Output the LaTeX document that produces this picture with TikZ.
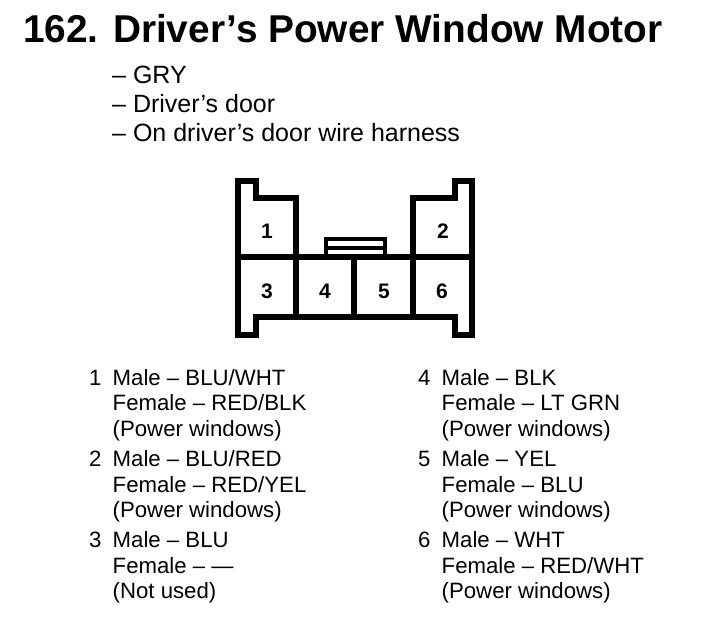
\documentclass[tikz,border=0pt]{standalone}
\usepackage{fontspec}
\setmainfont{Liberation Sans}
\usetikzlibrary{positioning}
\tikzset{
  heading/.style={anchor=base west,inner sep=0pt,font=\bfseries\fontsize{38.8}{38.8}\selectfont},
  info/.style={anchor=base west,inner sep=0pt,font=\fontsize{25}{25}\selectfont},
  pin/.style={inner sep=0pt,font=\bfseries\fontsize{21}{21}\selectfont},
  legend/.style={anchor=base west,inner sep=0pt,font=\fontsize{22.2}{22.2}\selectfont},
  housing/.style={line width=6pt,line join=miter,line cap=rect},
  latch/.style={line width=4pt,line join=miter}
}
\begin{document}
\begin{tikzpicture}[x=1pt,y=-1pt]
  \useasboundingbox (0,0) rectangle (704,630);
  \node (title) [heading] at (23,42.5) {162. Driver’s Power Window Motor};
  \node (colour) [info] at (112,83) {– GRY};
  \node (place) [info] at (112,112) {– Driver’s door};
  \node (where) [info] at (112,141) {– On driver’s door wire harness};
  % connector outline
  \draw[latch] (326,257) -- (326,239) -- (385,239) -- (385,257);
  \draw[latch] (326,248) -- (385,248);
  \draw[housing] (238,181) -- (256,181) -- (256,198) -- (296,198) -- (296,317);
  \draw[housing] (238,181) -- (238,335) -- (256,335) -- (256,317) -- (455,317) -- (455,335)
    -- (472,335) -- (472,181) -- (455,181) -- (455,198) -- (413,198) -- (413,317);
  \draw[housing] (238,257) -- (472,257);
  \draw[housing] (354,257) -- (354,317);
  % pin numbers
  \node (p1) [pin] at (267,231.5) {1};
  \node (p2) [pin] at (443,231.5) {2};
  \node (p3) [pin] at (267,291) {3};
  \node (p4) [pin] at (325,291) {4};
  \node (p5) [pin] at (384,291) {5};
  \node (p6) [pin] at (442,291) {6};
  % left column
  \node (n1) [legend] at (89,385.6) {1};
  \node (m1) [legend] at (112.5,385.6) {Male – BLU/WHT};
  \node (f1) [legend] at (112.5,410.6) {Female – RED/BLK};
  \node (u1) [legend] at (112.5,436.6) {(Power windows)};
  \node (n2) [legend] at (89,466.6) {2};
  \node (m2) [legend] at (112.5,466.6) {Male – BLU/RED};
  \node (f2) [legend] at (112.5,492.6) {Female – RED/YEL};
  \node (u2) [legend] at (112.5,517.6) {(Power windows)};
  \node (n3) [legend] at (89,547.6) {3};
  \node (m3) [legend] at (112.5,547.6) {Male – BLU};
  \node (f3) [legend] at (112.5,573.6) {Female – —};
  \node (u3) [legend] at (112.5,598.6) {(Not used)};
  % right column
  \node (n4) [legend] at (418,385.6) {4};
  \node (m4) [legend] at (441.5,385.6) {Male – BLK};
  \node (f4) [legend] at (441.5,410.6) {Female – LT GRN};
  \node (u4) [legend] at (441.5,436.6) {(Power windows)};
  \node (n5) [legend] at (418,466.6) {5};
  \node (m5) [legend] at (441.5,466.6) {Male – YEL};
  \node (f5) [legend] at (441.5,492.6) {Female – BLU};
  \node (u5) [legend] at (441.5,517.6) {(Power windows)};
  \node (n6) [legend] at (418,547.6) {6};
  \node (m6) [legend] at (441.5,547.6) {Male – WHT};
  \node (f6) [legend] at (441.5,573.6) {Female – RED/WHT};
  \node (u6) [legend] at (441.5,598.6) {(Power windows)};
\end{tikzpicture}
\end{document}
